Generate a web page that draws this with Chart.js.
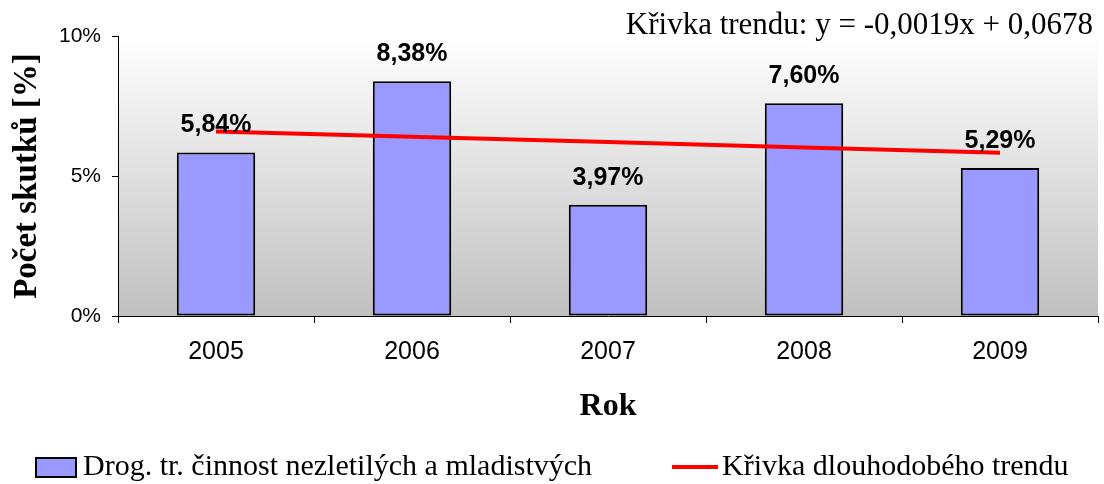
<!DOCTYPE html>
<html>
<head>
<meta charset="utf-8">
<script src="https://cdn.jsdelivr.net/npm/chart.js@4"></script>
<style>
  html, body { margin: 0; padding: 0; background: #fff; }
  #wrap { width: 1104px; height: 484px; }
</style>
</head>
<body>
<div id="wrap"><canvas id="chart" width="1104" height="484"></canvas></div>
<script>
// Data
const years = ['2005', '2006', '2007', '2008', '2009'];
const drugCases = [5.84, 8.38, 3.97, 7.60, 5.29];
const trendValues = [6.59, 6.40, 6.21, 6.02, 5.83];
const yTicks = [0, 5, 10];
const barLabel = 'Drog. tr. činnost nezletilých a mladistvých';
const trendLabel = 'Křivka dlouhodobého trendu';
const trendEquation = 'Křivka trendu: y = -0,0019x + 0,0678';

const SANS = '"Liberation Sans", Arial, sans-serif';
const SERIF = '"Liberation Serif", "Times New Roman", serif';

// plot background: white fading to grey
const plotBackground = {
  id: 'plotBackground',
  beforeDraw(chart) {
    const { ctx, chartArea: a } = chart;
    const g = ctx.createLinearGradient(0, a.top, 0, a.bottom);
    g.addColorStop(0, '#ffffff');
    g.addColorStop(1, '#c0c0c0');
    ctx.save();
    ctx.fillStyle = g;
    ctx.fillRect(a.left, a.top, a.right - a.left, a.bottom - a.top);
    ctx.restore();
  }
};

// value labels above bars, equation and legend
const extras = {
  id: 'extras',
  afterDraw(chart) {
    const ctx = chart.ctx;
    ctx.save();

    const meta = chart.getDatasetMeta(1);
    ctx.font = 'bold 25px ' + SANS;
    ctx.fillStyle = '#000';
    ctx.textAlign = 'center';
    ctx.textBaseline = 'middle';
    meta.data.forEach((bar, i) => {
      const txt = drugCases[i].toFixed(2).replace('.', ',') + '%';
      ctx.fillText(txt, bar.x, bar.y - 27);
    });

    ctx.font = '31px ' + SERIF;
    ctx.textAlign = 'right';
    ctx.fillText(trendEquation, 1093, 26);

    // legend
    const ds = chart.data.datasets;
    ctx.font = '30px ' + SERIF;
    ctx.textAlign = 'left';
    ctx.fillStyle = ds[1].backgroundColor;
    ctx.fillRect(36, 458, 40, 19);
    ctx.strokeStyle = '#000';
    ctx.lineWidth = 2;
    ctx.strokeRect(36, 458, 40, 19);
    ctx.fillStyle = '#000';
    ctx.fillText(ds[1].label, 83, 467);

    ctx.strokeStyle = ds[0].borderColor;
    ctx.lineWidth = 4;
    ctx.beginPath();
    ctx.moveTo(672, 467);
    ctx.lineTo(718, 467);
    ctx.stroke();
    ctx.fillText(ds[0].label, 722, 467);

    ctx.restore();
  }
};

new Chart(document.getElementById('chart'), {
  type: 'bar',
  data: {
    labels: years,
    datasets: [
      {
        type: 'line',
        label: trendLabel,
        data: trendValues,
        borderColor: '#ff0000',
        borderWidth: 4,
        pointRadius: 0,
        fill: false,
        tension: 0,
        order: 0
      },
      {
        label: barLabel,
        data: drugCases,
        backgroundColor: '#9999ff',
        borderColor: '#000000',
        borderWidth: 2,
        borderSkipped: false,
        categoryPercentage: 1,
        barPercentage: 0.4,
        order: 1
      }
    ]
  },
  options: {
    responsive: false,
    animation: false,
    layout: { padding: { left: 0, right: 6, top: 36, bottom: 58 } },
    plugins: {
      legend: { display: false },
      tooltip: { enabled: false }
    },
    scales: {
      x: {
        grid: { display: true, drawOnChartArea: false, drawTicks: true, tickLength: 7, color: '#000', offset: true },
        border: { display: true, color: '#000', width: 1 },
        ticks: { color: '#000', font: { family: SANS, size: 25 }, padding: 14, maxRotation: 0 },
        title: { display: true, text: 'Rok', color: '#000', font: { family: SERIF, size: 32, weight: 'bold' }, padding: { top: 4, bottom: 0 } },
        afterFit(scale) { scale.height = 110; }
      },
      y: {
        min: 0,
        max: 10,
        afterBuildTicks(scale) { scale.ticks = yTicks.map(v => ({ value: v })); },
        grid: { display: true, drawOnChartArea: false, drawTicks: true, tickLength: 6, color: '#000' },
        border: { display: true, color: '#000', width: 1 },
        ticks: { color: '#000', font: { family: SANS, size: 21 }, padding: 11, callback: v => v + '%' },
        title: { display: true, text: 'Počet skutků [%]', color: '#000', font: { family: SERIF, size: 33, weight: 'bold' }, padding: { top: 8, bottom: 4 } },
        afterFit(scale) { scale.width = 118; }
      }
    }
  },
  plugins: [plotBackground, extras]
});
</script>
</body>
</html>
